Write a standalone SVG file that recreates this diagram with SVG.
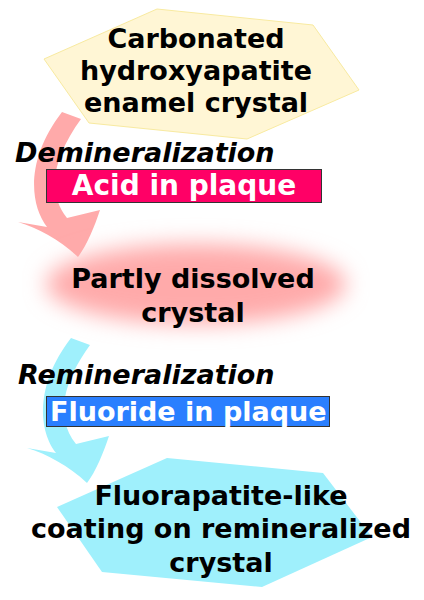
<svg xmlns="http://www.w3.org/2000/svg" width="424" height="600" viewBox="0 0 424 600">
<style>
.t{font-family:"DejaVu Sans",sans-serif;font-weight:bold;font-size:27px;fill:#000}
.c{text-anchor:middle}
.i{font-style:italic}
.w{fill:#fff}
</style>
<defs>
<filter id="blur" x="-30%" y="-60%" width="160%" height="220%"><feGaussianBlur stdDeviation="11"/></filter>
<path id="arrow" d="M62,112 L81,119 C55,155 45,190 67,218 L100,210 C94,228 87,245 78,257 C60,240 38,228 18,222 L47,227 C30,205 25,160 62,112 Z"/>
</defs>
<rect width="424" height="600" fill="#fff"/>
<g id="connectors">
<use href="#arrow" fill="#ffaaaa"/>
<use href="#arrow" fill="#9ff0fc" transform="translate(9,226)"/>
</g>
<g id="enamel">
<polygon points="44,59 157,9 313,25 359,90 247,139 89,123" fill="#fff6d5" stroke="#f8eaa0" stroke-width="1"/>
<text class="t c" x="196" y="48">Carbonated</text>
<text class="t c" x="196" y="80">hydroxyapatite</text>
<text class="t c" x="196" y="112">enamel crystal</text>
</g>
<g id="demin">
<text class="t i" x="15" y="162">Demineralization</text>
<rect x="46.5" y="169.5" width="275" height="33" fill="#ff0066" stroke="#333" stroke-width="1"/>
<text class="t c w" x="184" y="195" style="font-size:28px">Acid in plaque</text>
</g>
<g id="partly">
<ellipse cx="196" cy="284" rx="150" ry="40" fill="#ffaaaa" filter="url(#blur)"/>
<text class="t c" x="193" y="288">Partly dissolved</text>
<text class="t c" x="193" y="322">crystal</text>
</g>
<g id="remin">
<text class="t i" x="18" y="384">Remineralization</text>
<rect x="46.5" y="396.5" width="283" height="30" fill="#2a7fff" stroke="#333" stroke-width="1"/>
<text class="t w" x="50" y="421">Fluoride in plaque</text>
</g>
<g id="fluor">
<polygon points="57,507 167,458 323,473 372,537 262,587 102,572" fill="#9ff0fc"/>
<text class="t c" x="221" y="505">Fluorapatite-like</text>
<text class="t c" x="221" y="538">coating on remineralized</text>
<text class="t c" x="221" y="572">crystal</text>
</g>
</svg>
